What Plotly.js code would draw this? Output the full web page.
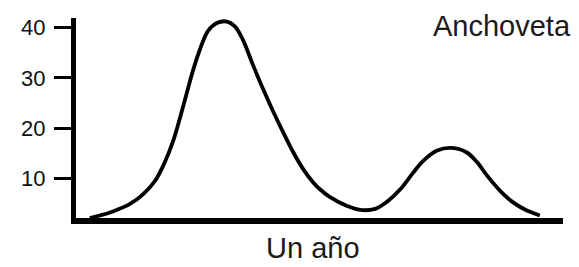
<!DOCTYPE html>
<html>
<head>
<meta charset="utf-8">
<script src="https://cdn.plot.ly/plotly-3.0.1.min.js"></script>
<style>html,body{margin:0;padding:0;background:#fff;}#chart{width:579px;height:267px;}</style>
</head>
<body>
<div id="chart"></div>
<script>
// Months across one year (x) and relative abundance (y)
const months = [0.34, 0.59, 0.91, 1.33, 1.65, 1.95, 2.19, 2.39, 2.56, 2.74, 2.88, 3.06, 3.25, 3.47, 3.72, 3.92, 4.11, 4.36, 4.61, 4.85, 5.10, 5.35, 5.59, 5.84, 6.01, 6.25, 6.68, 7.00, 7.37, 7.66, 7.98, 8.30, 8.55, 8.90, 9.26, 9.63, 9.88, 10.13, 10.45, 10.77, 11.06, 11.26, 11.43];
const abundance = [2.2, 2.7, 3.5, 5.0, 6.9, 9.6, 13.3, 17.4, 22.0, 27.3, 31.4, 35.8, 39.3, 40.9, 41.2, 40.2, 37.6, 32.6, 27.8, 23.5, 19.3, 15.3, 12.0, 9.3, 7.9, 6.4, 4.6, 3.8, 4.0, 5.4, 7.8, 11.1, 13.5, 15.6, 16.1, 15.2, 13.3, 10.6, 7.6, 5.3, 3.9, 3.2, 2.7];
const yTicks = [10, 20, 30, 40];
const seriesName = "Anchoveta";
const xTitle = "Un año";

const trace = {
  x: months, y: abundance, type: "scatter", mode: "lines",
  line: {color: "#000", width: 3.8, shape: "spline", smoothing: 1},
  name: seriesName, hoverinfo: "skip"
};

const layout = {
  width: 579, height: 267,
  margin: {l: 76, r: 16, t: 18, b: 49},
  paper_bgcolor: "#fff", plot_bgcolor: "#fff",
  showlegend: false,
  font: {family: "Liberation Sans, Arial, sans-serif", color: "#1a1a1a"},
  xaxis: {
    range: [0, 12], showgrid: false, zeroline: false, showticklabels: false, ticks: "",
    showline: true, linecolor: "#000", linewidth: 6
  },
  yaxis: {
    range: [2.2, 41.9], showgrid: false, zeroline: false,
    tickvals: yTicks, ticktext: yTicks.map(String),
    ticks: "outside", ticklen: 17, tickwidth: 3, tickcolor: "#000",
    ticklabelstandoff: 4,
    tickfont: {size: 22, color: "#111"},
    showline: true, linecolor: "#000", linewidth: 5
  },
  annotations: [
    {
      text: seriesName, xref: "paper", yref: "paper", x: 1.0205, y: 0.96,
      xanchor: "right", yanchor: "middle", showarrow: false,
      font: {size: 29, color: "#1a1a1a"}
    },
    {
      text: xTitle, xref: "paper", yref: "paper", x: 0.4867, y: -0.24,
      xanchor: "center", yanchor: "bottom", showarrow: false,
      font: {size: 29, color: "#1a1a1a"}
    }
  ]
};

Plotly.newPlot("chart", [trace], layout, {staticPlot: true, displayModeBar: false});
</script>
</body>
</html>
